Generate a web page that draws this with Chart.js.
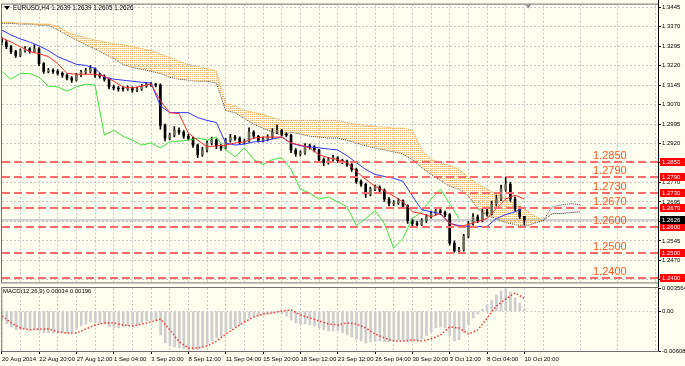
<!DOCTYPE html>
<html>
<head>
<meta charset="utf-8">
<script src="https://cdn.jsdelivr.net/npm/chart.js@4.4.1/dist/chart.umd.min.js"></script>
<style>
html, body { margin: 0; padding: 0; background: #fffff0; }
#wrap { position: relative; width: 685px; height: 366px; overflow: hidden; }
#price { position: absolute; left: 0; top: 0; }
#macd { position: absolute; left: 0; top: 280px; }
</style>
</head>
<body>
<div id="wrap">
  <canvas id="price" width="685" height="287"></canvas>
  <canvas id="macd" width="685" height="86"></canvas>
</div>
<script>
// EURUSD H4, 20 Aug - 10 Oct 2014. candles are sampled every 2 bars (x = bar index)
const candleOpen = [
  1.3320,1.3311,1.3293,1.3274,1.3259,1.3278,1.3285,1.3274,1.3285,1.3228,
  1.3198,1.3202,1.3198,1.3190,1.3183,1.3172,1.3164,1.3183,1.3195,1.3198,
  1.3209,1.3183,1.3179,1.3168,1.3138,1.3134,1.3130,1.3130,1.3134,1.3126,
  1.3130,1.3141,1.3149,1.3145,1.3145,1.2990,1.2941,1.2952,1.2971,1.2964,
  1.2948,1.2941,1.2914,1.2877,1.2895,1.2922,1.2933,1.2911,1.2903,1.2933,
  1.2945,1.2941,1.2926,1.2929,1.2964,1.2948,1.2933,1.2937,1.2945,1.2964,
  1.2971,1.2956,1.2952,1.2895,1.2880,1.2884,1.2911,1.2907,1.2895,1.2858,
  1.2846,1.2858,1.2865,1.2854,1.2850,1.2839,1.2820,1.2774,1.2763,1.2725,
  1.2744,1.2752,1.2740,1.2706,1.2688,1.2691,1.2699,1.2680,1.2623,1.2612,
  1.2608,1.2623,1.2638,1.2650,1.2661,1.2654,1.2646,1.2536,1.2506,1.2510,
  1.2563,1.2612,1.2638,1.2623,1.2657,1.2650,1.2688,1.2706,1.2744,1.2763,
  1.2706,1.2669,1.2639
];
const candleHigh = [
  1.3330,1.3318,1.3298,1.3280,1.3285,1.3293,1.3290,1.3300,1.3290,1.3232,
  1.3210,1.3208,1.3205,1.3196,1.3188,1.3178,1.3190,1.3202,1.3210,1.3220,
  1.3212,1.3190,1.3185,1.3172,1.3145,1.3140,1.3138,1.3142,1.3138,1.3137,
  1.3148,1.3156,1.3155,1.3152,1.3150,1.2995,1.2960,1.2985,1.2980,1.2970,
  1.2955,1.2945,1.2918,1.2905,1.2930,1.2945,1.2938,1.2918,1.2940,1.2955,
  1.2952,1.2946,1.2937,1.2980,1.2970,1.2952,1.2945,1.2953,1.2978,1.2992,
  1.2975,1.2962,1.2956,1.2900,1.2892,1.2920,1.2918,1.2912,1.2898,1.2865,
  1.2866,1.2874,1.2870,1.2860,1.2856,1.2843,1.2825,1.2780,1.2768,1.2752,
  1.2760,1.2757,1.2745,1.2712,1.2700,1.2708,1.2703,1.2684,1.2630,1.2620,
  1.2631,1.2646,1.2660,1.2672,1.2667,1.2660,1.2650,1.2545,1.2520,1.2570,
  1.2620,1.2650,1.2645,1.2668,1.2672,1.2698,1.2720,1.2760,1.2791,1.2770,
  1.2715,1.2676,1.2639
];
const candleLow = [
  1.3300,1.3285,1.3266,1.3252,1.3255,1.3272,1.3268,1.3270,1.3220,1.3190,
  1.3192,1.3190,1.3183,1.3175,1.3165,1.3155,1.3160,1.3178,1.3188,1.3192,
  1.3175,1.3172,1.3160,1.3130,1.3126,1.3122,1.3122,1.3125,1.3118,1.3120,
  1.3125,1.3136,1.3140,1.3138,1.2975,1.2930,1.2935,1.2945,1.2955,1.2940,
  1.2933,1.2905,1.2865,1.2870,1.2888,1.2915,1.2900,1.2893,1.2898,1.2925,
  1.2932,1.2918,1.2918,1.2925,1.2940,1.2925,1.2926,1.2930,1.2940,1.2958,
  1.2948,1.2945,1.2885,1.2870,1.2872,1.2878,1.2898,1.2888,1.2848,1.2835,
  1.2840,1.2852,1.2846,1.2842,1.2832,1.2812,1.2766,1.2755,1.2712,1.2718,
  1.2738,1.2732,1.2697,1.2680,1.2681,1.2685,1.2672,1.2612,1.2602,1.2600,
  1.2603,1.2616,1.2632,1.2645,1.2646,1.2638,1.2528,1.2501,1.2501,1.2505,
  1.2556,1.2605,1.2615,1.2618,1.2640,1.2644,1.2680,1.2700,1.2735,1.2698,
  1.2660,1.2630,1.2605
];
const candleClose = [
  1.3311,1.3293,1.3274,1.3259,1.3278,1.3285,1.3274,1.3285,1.3228,1.3198,
  1.3202,1.3198,1.3190,1.3183,1.3172,1.3164,1.3183,1.3195,1.3198,1.3209,
  1.3183,1.3179,1.3168,1.3138,1.3134,1.3130,1.3130,1.3134,1.3126,1.3130,
  1.3141,1.3149,1.3145,1.3145,1.2990,1.2941,1.2952,1.2971,1.2964,1.2948,
  1.2941,1.2914,1.2877,1.2895,1.2922,1.2933,1.2911,1.2903,1.2933,1.2945,
  1.2941,1.2926,1.2929,1.2964,1.2948,1.2933,1.2937,1.2945,1.2964,1.2971,
  1.2956,1.2952,1.2895,1.2880,1.2884,1.2911,1.2907,1.2895,1.2858,1.2846,
  1.2858,1.2865,1.2854,1.2850,1.2839,1.2820,1.2774,1.2763,1.2725,1.2744,
  1.2752,1.2740,1.2706,1.2688,1.2691,1.2699,1.2680,1.2623,1.2612,1.2608,
  1.2623,1.2638,1.2650,1.2661,1.2654,1.2646,1.2536,1.2506,1.2510,1.2563,
  1.2612,1.2638,1.2623,1.2657,1.2650,1.2688,1.2706,1.2744,1.2763,1.2706,
  1.2669,1.2639,1.2626
];

// ichimoku lines, one value every 4 bars
const tenkan = [
  1.3327,1.3311,1.3293,1.3274,1.3266,1.3255,1.3228,1.3190,1.3187,1.3187,
  1.3187,1.3179,1.3160,1.3138,1.3134,1.3141,1.3149,1.3085,1.3039,1.3035,
  1.2960,1.2933,1.2907,1.2911,1.2914,1.2922,1.2926,1.2941,1.2945,1.2945,
  1.2945,1.2922,1.2914,1.2903,1.2877,1.2865,1.2858,1.2846,1.2812,1.2782,
  1.2755,1.2737,1.2718,1.2695,1.2657,1.2650,1.2638,1.2650,1.2612,1.2600,
  1.2608,1.2619,1.2631,1.2669,1.2706,1.2721,1.2706
];
const kijun = [
  1.3357,1.3338,1.3323,1.3311,1.3296,1.3278,1.3255,1.3240,1.3225,1.3221,
  1.3209,1.3175,1.3168,1.3164,1.3160,1.3156,1.3153,1.3065,1.3039,1.3039,
  1.3039,1.3020,1.3009,1.3001,1.2922,1.2914,1.2918,1.2926,1.2929,1.2937,
  1.2945,1.2922,1.2911,1.2907,1.2903,1.2899,1.2895,1.2873,1.2846,1.2820,
  1.2801,1.2793,1.2786,1.2774,1.2718,1.2665,1.2657,1.2650,1.2612,1.2604,
  1.2600,1.2600,1.2600,1.2631,1.2646,1.2657,1.2673
];
const chikou = [
  1.3198,1.3168,1.3190,1.3190,1.3175,1.3141,1.3138,1.3122,1.3138,1.3149,
  1.3145,1.2952,1.2971,1.2948,1.2933,1.2914,1.2922,1.2903,1.2926,1.2929,
  1.2933,1.2941,1.2933,1.2945,1.2895,1.2869,1.2903,1.2858,1.2839,1.2858,
  1.2865,1.2820,1.2744,1.2729,1.2706,1.2714,1.2695,1.2676,1.2604,1.2631,
  1.2661,1.2612,1.2517,1.2555,1.2631,1.2657,1.2706,1.2744,1.2688,1.2631
];
const senkouTop = [
  1.3387,1.3387,1.3383,1.3383,1.3380,1.3380,1.3372,1.3349,1.3338,1.3327,
  1.3319,1.3311,1.3304,1.3300,1.3293,1.3285,1.3278,1.3266,1.3251,1.3236,
  1.3225,1.3217,1.3209,1.3198,1.3073,1.3065,1.3047,1.3039,1.3032,1.3020,
  1.3009,1.3009,1.3009,1.3009,1.3009,1.3009,1.3009,1.3001,1.2994,1.2990,
  1.2986,1.2983,1.2979,1.2979,1.2971,1.2895,1.2858,1.2846,1.2835,1.2820,
  1.2790,1.2763,1.2744,1.2725,1.2706,1.2688,1.2669,1.2642,1.2623,1.2650,
  1.2650,1.2654,1.2657
];
const senkouBottom = [
  1.3383,1.3383,1.3380,1.3380,1.3376,1.3376,1.3357,1.3338,1.3319,1.3300,
  1.3285,1.3266,1.3247,1.3225,1.3213,1.3206,1.3198,1.3190,1.3175,1.3168,
  1.3164,1.3160,1.3160,1.3153,1.3047,1.3039,1.3016,1.2994,1.2979,1.2964,
  1.2952,1.2964,1.2956,1.2948,1.2945,1.2941,1.2941,1.2933,1.2922,1.2911,
  1.2903,1.2895,1.2888,1.2880,1.2858,1.2827,1.2801,1.2778,1.2755,1.2744,
  1.2718,1.2669,1.2642,1.2631,1.2615,1.2608,1.2600,1.2612,1.2623,1.2676,
  1.2684,1.2688,1.2684
];

// MACD(12,26,9): main every 2 bars, signal every 4 bars
const macdMain = [
  -0.00133,-0.00195,-0.00241,-0.00286,-0.00286,-0.00271,-0.00286,-0.00271,-0.00302,-0.00333,
  -0.00333,-0.00333,-0.00333,-0.00333,-0.00333,-0.00317,-0.00271,-0.00225,-0.00195,-0.00164,
  -0.00179,-0.00179,-0.00195,-0.00241,-0.00256,-0.00256,-0.00241,-0.00225,-0.00225,-0.00210,
  -0.00179,-0.00149,-0.00133,-0.00149,-0.00363,-0.00486,-0.00532,-0.00547,-0.00562,-0.00578,
  -0.00593,-0.00593,-0.00593,-0.00547,-0.00501,-0.00455,-0.00409,-0.00378,-0.00317,-0.00271,
  -0.00241,-0.00210,-0.00164,-0.00103,-0.00072,-0.00072,-0.00057,-0.00041,-0.00026,-0.00011,
  -0.00041,-0.00072,-0.00133,-0.00179,-0.00195,-0.00195,-0.00210,-0.00225,-0.00256,-0.00286,
  -0.00302,-0.00302,-0.00302,-0.00333,-0.00363,-0.00394,-0.00424,-0.00455,-0.00486,-0.00470,
  -0.00455,-0.00455,-0.00470,-0.00470,-0.00455,-0.00440,-0.00440,-0.00470,-0.00470,-0.00455,
  -0.00424,-0.00378,-0.00317,-0.00256,-0.00241,-0.00256,-0.00378,-0.00455,-0.00440,-0.00333,
  -0.00210,-0.00103,-0.00041,0.00035,0.00097,0.00173,0.00250,0.00311,0.00342,0.00296,
  0.00204,0.00127,0.00034
];
const macdSignal = [
  -0.00072,-0.00179,-0.00256,-0.00286,-0.00271,-0.00271,-0.00317,-0.00333,-0.00333,-0.00271,
  -0.00210,-0.00179,-0.00179,-0.00210,-0.00225,-0.00195,-0.00164,-0.00118,-0.00286,-0.00470,
  -0.00562,-0.00562,-0.00532,-0.00455,-0.00348,-0.00256,-0.00164,-0.00087,-0.00041,-0.00026,
  0.00005,0.00020,-0.00057,-0.00103,-0.00149,-0.00195,-0.00210,-0.00179,-0.00195,-0.00256,
  -0.00348,-0.00409,-0.00455,-0.00455,-0.00440,-0.00455,-0.00424,-0.00363,-0.00240,-0.00256,
  -0.00348,-0.00286,-0.00103,0.00081,0.00188,0.00280,0.00196
];

const levels = [1.2850, 1.2790, 1.2730, 1.2670, 1.2600, 1.2500, 1.2400];
const lastPrice = 1.2626;
const priceTicks = [1.3445,1.3370,1.3295,1.3220,1.3145,1.3070,1.2995,1.2920,1.2845,1.2770,1.2695,1.2620,1.2545,1.2470,1.2395];
const timeLabels = ['20 Aug 2014','22 Aug 20:00','27 Aug 12:00','1 Sep 04:00','3 Sep 20:00','8 Sep 12:00','11 Sep 04:00',
  '15 Sep 20:00','18 Sep 12:00','23 Sep 12:00','26 Sep 04:00','30 Sep 20:00','3 Oct 12:00','8 Oct 04:00','10 Oct 20:00'];
const macdTicks = [0.003564, 0, -0.006085];
const macdTickLabels = ['0.003564', '0.00', '-0.006085'];

const FONT = '"Liberation Sans", Arial, sans-serif';
const xMin = 0.13, xMax = 281.27;
const gridBars = [];
for (let b = 0; b <= 280; b += 8) gridBars.push(b);

function dotPattern(color) {
  const c = document.createElement('canvas');
  c.width = 2; c.height = 2;
  const g = c.getContext('2d');
  g.fillStyle = color;
  g.fillRect(0, 0, 1, 1);
  return g.createPattern(c, 'repeat');
}
const orangeDots = dotPattern('#f7b26c');
const thistleDots = dotPattern('#ece0ec');

// bar where the two spans cross (kumo twist)
const twistBar = senkouTop.findIndex((v, k) => v < senkouBottom[k]) * 4 - 4;

const every4 = arr => arr.map((v, k) => ({x: k * 4, y: v}));
const wicks = candleHigh.map((h, j) => ({x: j * 2, y: [candleLow[j], h]}));
const bodies = candleOpen.map((o, j) => ({x: j * 2, y: [o, candleClose[j]]}));
const bodyColors = candleOpen.map((o, j) => candleClose[j] > o ? '#6b6b5a' : '#000000');

function xAxis(showLabels) {
  return {
    type: 'linear', min: xMin, max: xMax, offset: false,
    afterBuildTicks: s => { s.ticks = gridBars.map(v => ({value: v})); },
    ticks: {
      display: showLabels, autoSkip: false, maxRotation: 0, align: 'start', padding: 2,
      color: '#000', font: {family: FONT, size: 6},
      callback: v => v % 16 === 0 ? timeLabels[v / 16] : ''
    },
    grid: {
      color: '#c8c8c8', drawTicks: showLabels, tickLength: 3, offset: false,
      tickColor: c => (c.tick && c.tick.value % 16 === 0) ? '#000' : 'rgba(0,0,0,0)'
    },
    border: {display: false, dash: [2, 2]}
  };
}

const priceOverlay = {
  id: 'priceOverlay',
  beforeDatasetsDraw(chart) {
    const {ctx, chartArea: a, scales: {y}} = chart;
    const py = Math.round(y.getPixelForValue(lastPrice));
    ctx.save();
    ctx.strokeStyle = '#cfcfcf';
    ctx.lineWidth = 2;
    ctx.beginPath(); ctx.moveTo(a.left, py); ctx.lineTo(a.right, py); ctx.stroke();
    ctx.restore();
  },
  afterDatasetsDraw(chart) {
    const {ctx, chartArea: a, scales: {y}} = chart;
    ctx.save();
    ctx.beginPath(); ctx.rect(a.left, a.top, a.right - a.left, a.bottom - a.top); ctx.clip();
    levels.forEach(lv => {
      const py = Math.round(y.getPixelForValue(lv));
      ctx.strokeStyle = '#ff6a6a';
      ctx.lineWidth = 2;
      ctx.setLineDash([8, 4]);
      ctx.beginPath(); ctx.moveTo(a.left, py); ctx.lineTo(a.right, py); ctx.stroke();
      ctx.setLineDash([]);
      ctx.fillStyle = '#ff5522';
      ctx.font = '11px ' + FONT;
      ctx.fillText(lv.toFixed(4), 593, py - 3);
    });
    ctx.restore();
  },
  afterDraw(chart) {
    const {ctx, chartArea: a, scales: {x, y}} = chart;
    ctx.save();
    // frame
    ctx.strokeStyle = '#707070';
    ctx.lineWidth = 1;
    ctx.strokeRect(a.left - 0.5, a.top - 0.5, a.right - a.left + 1, a.bottom - a.top + 1);
    ctx.strokeStyle = '#000';
    ctx.beginPath(); ctx.moveTo(a.right + 0.5, 0); ctx.lineTo(a.right + 0.5, chart.height); ctx.stroke();
    // axis price boxes
    ctx.font = '6px ' + FONT;
    ctx.textBaseline = 'middle';
    const box = (v, bg) => {
      const py = Math.round(y.getPixelForValue(v));
      ctx.fillStyle = bg;
      ctx.fillRect(a.right + 2, py - 4, 26, 8);
      ctx.fillStyle = '#fff';
      ctx.fillText(v.toFixed(4), a.right + 4, py);
    };
    levels.forEach(lv => box(lv, '#ff0000'));
    box(lastPrice, '#000');
    // title
    const n = candleClose.length - 1;
    ctx.fillStyle = '#000';
    ctx.beginPath(); ctx.moveTo(4, 6); ctx.lineTo(10, 6); ctx.lineTo(7, 10); ctx.closePath(); ctx.fill();
    ctx.font = '6.3px ' + FONT;
    ctx.fillText('EURUSD,H4 ' + [candleOpen[n], candleHigh[n], candleLow[n], candleClose[n]].map(v => v.toFixed(4)).join(' '), 13, 8);
    // chart shift marker
    const sx = x.getPixelForValue(224) + 4;
    ctx.fillStyle = '#909090';
    ctx.beginPath(); ctx.moveTo(sx - 3, a.top); ctx.lineTo(sx + 3, a.top); ctx.lineTo(sx, a.top + 4); ctx.closePath(); ctx.fill();
    ctx.restore();
  }
};

new Chart(document.getElementById('price'), {
  type: 'bar',
  data: {
    datasets: [
      {type: 'line', label: 'Tenkan-sen', data: every4(tenkan), borderColor: '#ff2a2a', borderWidth: 1, pointRadius: 0, order: 1},
      {type: 'line', label: 'Kijun-sen', data: every4(kijun), borderColor: '#3333ff', borderWidth: 1, pointRadius: 0, order: 1},
      {type: 'line', label: 'Chikou Span', data: every4(chikou), borderColor: '#3fe23f', borderWidth: 1, pointRadius: 0, order: 1},
      {type: 'bar', label: 'wick', data: wicks, backgroundColor: '#000', barThickness: 1, grouped: false, order: 2.5},
      {type: 'bar', label: 'body', data: bodies, backgroundColor: bodyColors, borderColor: '#000', borderWidth: 0,
        borderSkipped: false, barThickness: 2, minBarLength: 1, grouped: false, order: 2},
      {type: 'line', label: 'Senkou Span B', data: every4(senkouTop), borderColor: '#f0952e', borderWidth: 1, borderDash: [1, 1],
        segment: {borderColor: c => c.p0.parsed.x >= twistBar ? '#222' : '#f0952e'},
        pointRadius: 0, fill: {target: '+1', above: orangeDots, below: thistleDots}, order: 3},
      {type: 'line', label: 'Senkou Span A', data: every4(senkouBottom), borderColor: '#3a3a3a', borderWidth: 1, borderDash: [1, 1],
        pointRadius: 0, order: 3}
    ]
  },
  options: {
    responsive: false, animation: false, events: [],
    layout: {padding: {left: 2, top: 2, right: 0, bottom: 2}},
    plugins: {legend: {display: false}, tooltip: {enabled: false}},
    scales: {
      x: xAxis(false),
      y: {
        position: 'right', min: 1.23849, max: 1.34552,
        afterBuildTicks: s => { s.ticks = priceTicks.map(v => ({value: v})); },
        afterFit: s => { s.width = 27; },
        ticks: {color: '#000', font: {family: FONT, size: 6}, padding: 1, autoSkip: false, callback: v => v.toFixed(4)},
        grid: {color: '#c8c8c8', tickColor: '#000', tickLength: 3},
        border: {display: false, dash: [2, 2]}
      }
    }
  },
  plugins: [priceOverlay]
});

const macdOverlay = {
  id: 'macdOverlay',
  afterDraw(chart) {
    const {ctx, chartArea: a} = chart;
    ctx.save();
    ctx.strokeStyle = '#707070';
    ctx.lineWidth = 1;
    ctx.strokeRect(a.left - 0.5, a.top - 0.5, a.right - a.left + 1, a.bottom - a.top + 1);
    ctx.strokeStyle = '#000';
    ctx.beginPath(); ctx.moveTo(a.right + 0.5, a.top); ctx.lineTo(a.right + 0.5, a.bottom); ctx.stroke();
    ctx.fillStyle = '#000';
    ctx.font = '6px ' + FONT;
    ctx.textBaseline = 'middle';
    ctx.fillText('MACD(12,26,9) ' + macdMain[macdMain.length - 1].toFixed(5) + ' ' + macdSignal[macdSignal.length - 1].toFixed(5), 3, a.top + 3);
    ctx.restore();
  }
};

new Chart(document.getElementById('macd'), {
  type: 'bar',
  data: {
    datasets: [
      {type: 'line', label: 'Signal', data: every4(macdSignal), borderColor: '#ff3333', borderWidth: 1.5, borderDash: [1.5, 2],
        pointRadius: 0, order: 1},
      {type: 'bar', label: 'MACD', data: macdMain.map((v, j) => ({x: j * 2, y: v})), backgroundColor: '#cdcdcd',
        barThickness: 2, grouped: false, order: 2}
    ]
  },
  options: {
    responsive: false, animation: false, events: [],
    layout: {padding: {left: 2, top: 8, right: 0, bottom: 0}},
    plugins: {legend: {display: false}, tooltip: {enabled: false}},
    scales: {
      x: Object.assign(xAxis(true), {afterFit: s => { s.height = 15; }}),
      y: {
        position: 'right', min: -0.006085, max: 0.003564,
        afterBuildTicks: s => { s.ticks = macdTicks.map(v => ({value: v})); },
        afterFit: s => { s.width = 27; },
        ticks: {color: '#000', font: {family: FONT, size: 6}, padding: 1, autoSkip: false, callback: (v, i) => macdTickLabels[i]},
        grid: {color: c => (c.tick && c.tick.value === 0) ? '#c8c8c8' : 'rgba(0,0,0,0)', tickColor: '#000', tickLength: 3},
        border: {display: false, dash: [2, 2]}
      }
    }
  },
  plugins: [macdOverlay]
});
</script>
</body>
</html>
